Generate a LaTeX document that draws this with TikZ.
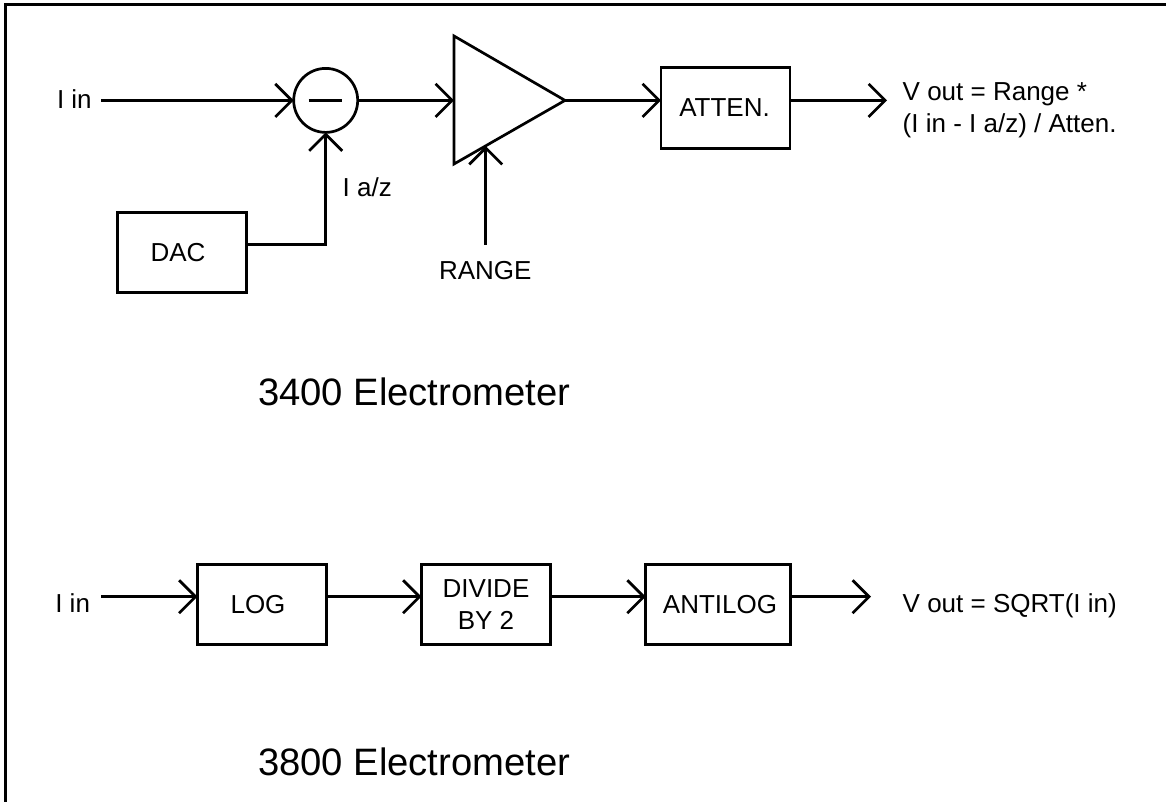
\documentclass[tikz,border=0pt]{standalone}
\usepackage{fontspec}
\setmainfont{Liberation Sans}
\usetikzlibrary{arrows.meta}
\tikzset{
   conn/.style={-{Straight Barb[length=16.5pt,width=33pt]}},
   blockbox/.style={draw, rectangle, minimum height=80.5pt, inner sep=0pt, outer sep=0pt, align=center, font=\fontsize{26pt}{32pt}\selectfont},
   lbl/.style={anchor=base west, inner sep=0pt, outer sep=0pt, align=left, font=\fontsize{26pt}{32pt}\selectfont},
   bigtitle/.style={anchor=base west, inner sep=0pt, outer sep=0pt, font=\fontsize{38.2pt}{46pt}\selectfont}
}
\begin{document}
\begin{tikzpicture}[x=1pt, y=-1pt, line width=2.7pt]
   \useasboundingbox (0,0) rectangle (1166,802);
   \draw (5.5,802)--(5.5,4.5)--(1166,4.5);
   % 3400
   \node[lbl] (iina) at (57,108.7) {I in};
   \coordinate (iinastart) at (101,100.4);
   \node[draw, circle, minimum size=64pt, inner sep=0pt, outer sep=0pt] (sum) at (325.7,100.4) {};
   \draw ([xshift=-17pt]sum.center)--([xshift=16pt]sum.center);
   \coordinate (ampin) at (454,100.4);
   \coordinate (ampout) at (565,100.4);
   \coordinate (amptop) at (454,36);
   \coordinate (ampbot) at (454,164);
   \coordinate (ampgain) at (485.7,146);
   \coordinate (rangestart) at (485.7,245);
   \draw[line join=miter] (amptop)--(ampout)--(ampbot)--cycle;
   \node[blockbox, minimum width=129.5pt] (dac) at (182,252.5) {DAC\hspace{8pt}};
   \node[blockbox, minimum width=129pt] (atten) at (725.5,108) {ATTEN.\hspace{2pt}};
   \node[lbl] (iaz) at (342.7,196.7) {I a/z};
   \node[lbl] (range) at (439,279) {RANGE};
   \coordinate (voutaend) at (887,100.4);
   \node[lbl] (vouta) at (902.7,133) {V out = Range *\\(I in - I a/z) / Atten.};
   \node[bigtitle] (titlea) at (258,405.5) {3400 Electrometer};
   \draw[conn] (iinastart)--(sum.west);
   \draw[conn] ([yshift=8.1pt]dac.east) -| (sum.south);
   \draw[conn] (sum.east)--(ampin);
   \draw[conn] (rangestart)--(ampgain);
   \draw[conn] (ampout)--(ampout -| atten.west);
   \draw[conn] (atten.east |- voutaend)--(voutaend);
   % 3800
   \node[lbl] (iinb) at (55.3,612.7) {I in};
   \coordinate (iinbstart) at (101,596.7);
   \node[blockbox, minimum width=129pt] (log) at (262,604.5) {LOG\hspace{8pt}};
   \node[blockbox, minimum width=129pt] (divide) at (486,604.5) {DIVIDE\\BY 2};
   \node[blockbox, minimum width=144.5pt] (antilog) at (718,604.5) {\hspace{4pt}ANTILOG};
   \coordinate (voutbend) at (871,596.7);
   \node[lbl] (voutb) at (902.7,612.7) {V out = SQRT(I in)};
   \node[bigtitle] (titleb) at (258,775) {3800 Electrometer};
   \draw[conn] (iinbstart)--(iinbstart -| log.west);
   \draw[conn] ([yshift=7.8pt]log.east)--([yshift=7.8pt]divide.west);
   \draw[conn] ([yshift=7.8pt]divide.east)--([yshift=7.8pt]antilog.west);
   \draw[conn] (antilog.east |- voutbend)--(voutbend);
\end{tikzpicture}
\end{document}
